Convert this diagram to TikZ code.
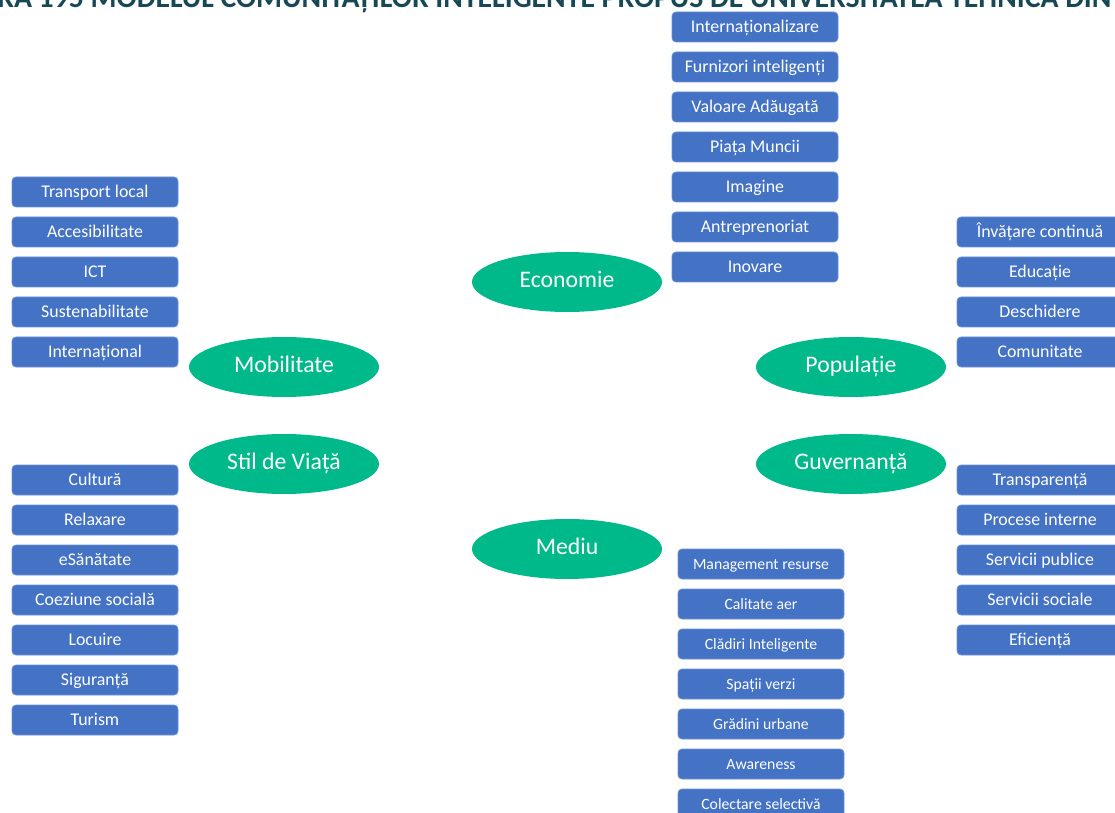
\documentclass[tikz,border=0pt]{standalone}
\usepackage{fontspec}
\setmainfont{Carlito}
\usetikzlibrary{shapes.geometric}

\definecolor{boxblue}{RGB}{68,114,196}
\definecolor{boxline}{RGB}{110,145,215}
\definecolor{ovalgreen}{RGB}{0,185,138}
\definecolor{titleteal}{RGB}{24,72,86}

\tikzset{
  item/.style={draw=boxline, line width=0.6pt, fill=boxblue, rounded corners=3pt,
    minimum width=124.5pt, minimum height=22.5pt, inner sep=0pt,
    text height=0.95em, text depth=0.15em,
    text=white, font=\fontsize{13.4}{15}\selectfont},
  smallitem/.style={item, font=\fontsize{11.8}{13}\selectfont},
  pillar/.style={ellipse, fill=ovalgreen, minimum width=142.5pt, minimum height=45pt,
    inner sep=0pt, text height=0.95em, text depth=0.15em,
    text=white, font=\fontsize{17.8}{20}\selectfont}
}

\begin{document}
\begin{tikzpicture}[x=0.75pt, y=-0.75pt]
\useasboundingbox (0,0) rectangle (1115,813);
\clip (0,0) rectangle (1115,813);

% titlu (taiat sus)
\node[anchor=base west, inner sep=0pt, text=titleteal, font=\bfseries\fontsize{22.3}{24}\selectfont] (title) at (-3,7.5)
  {RA 195 MODELUL COMUNITĂȚILOR INTELIGENTE PROPUS DE UNIVERSITATEA TEHNICĂ DIN};

% piloni
\node[pillar] (eco) at (567,282) {Economie};
\node[pillar] (mob) at (284,367) {Mobilitate};
\node[pillar] (pop) at (851,367) {Populație};
\node[pillar] (stil) at (284,464) {Stil de Viață};
\node[pillar] (guv) at (851,464) {Guvernanță};
\node[pillar] (med) at (567,549) {Mediu};

% Economie
\foreach \t [count=\i] in {Internaționalizare, Furnizori inteligenți, Valoare Adăugată,
    Piața Muncii, Imagine, Antreprenoriat, Inovare}
  \node[item] (eco\i) at (755,{27+40*(\i-1)}) {\t};

% Mobilitate
\foreach \t [count=\i] in {Transport local, Accesibilitate, ICT, Sustenabilitate, Internațional}
  \node[item] (mob\i) at (95,{192+40*(\i-1)}) {\t};

% Populatie
\foreach \t [count=\i] in {Învățare continuă, Educație, Deschidere, Comunitate}
  \node[item] (pop\i) at (1040,{232+40*(\i-1)}) {\t};

% Stil de viata
\foreach \t [count=\i] in {Cultură, Relaxare, eSănătate, Coeziune socială, Locuire,
    Siguranță, Turism}
  \node[item] (stil\i) at (95,{480+40*(\i-1)}) {\t};

% Guvernanta
\foreach \t [count=\i] in {Transparență, Procese interne, Servicii publice,
    Servicii sociale, Eficiență}
  \node[item] (guv\i) at (1040,{480+40*(\i-1)}) {\t};

% Mediu
\foreach \t [count=\i] in {Management  resurse, Calitate aer, Clădiri Inteligente,
    Spații verzi, Grădini urbane, Awareness, Colectare selectivă}
  \node[smallitem] (med\i) at (761,{564+40*(\i-1)}) {\t};
\end{tikzpicture}
\end{document}
